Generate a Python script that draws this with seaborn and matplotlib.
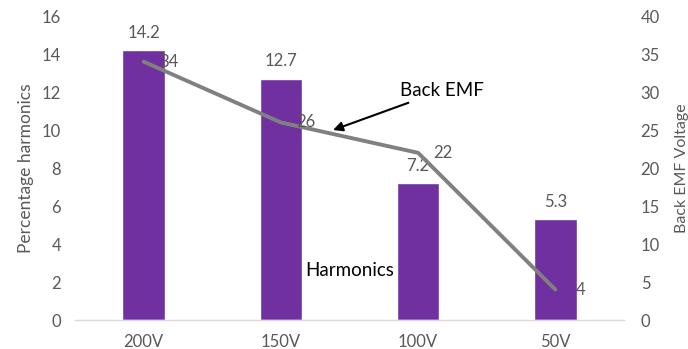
import matplotlib
matplotlib.use("Agg")
import matplotlib.pyplot as plt
import seaborn as sns
import numpy as np
import pandas as pd

categories = ["200V", "150V", "100V", "50V"]
harmonics = [14.2, 12.7, 7.2, 5.3]
back_emf = [34, 26, 22, 4]

sns.set_style("white")
plt.rcParams['font.family'] = ['Lato', 'DejaVu Sans']

bar_color = "#7030A0"
line_color = "#808080"
text_color = "#595959"

fig = plt.figure(figsize=(6.88, 3.49), dpi=100)
ax = fig.add_axes([0.109, 0.083, 0.798, 0.871])

df = pd.DataFrame({"cat": categories, "harm": harmonics, "emf": back_emf})
sns.barplot(data=df, x="cat", y="harm", color=bar_color, width=0.31,
            saturation=1, ax=ax)
ax.set_ylim(0, 16)
ax.set_xlim(-0.5, 3.5)
ax.set_yticks(np.arange(0, 17, 2))
ax.set_xlabel("")
ax.set_ylabel("Percentage harmonics", fontsize=12.5, color=text_color,
              labelpad=6)
ax.tick_params(axis="both", length=0, labelsize=12, colors=text_color, pad=10)
for s in ["top", "right", "left"]:
    ax.spines[s].set_visible(False)
ax.spines["bottom"].set_color("#D9D9D9")
ax.spines["bottom"].set_linewidth(1)

for i, v in enumerate(harmonics):
    ax.annotate(f"{v}", (i, v), xytext=(0, 7), textcoords="offset points",
                ha="center", va="bottom", fontsize=12, color=text_color)

ax2 = ax.twinx()
xpos = np.arange(len(categories))
sns.lineplot(x=xpos, y=back_emf, color=line_color, linewidth=2.8, ax=ax2)
ax2.set_ylim(0, 40)
ax2.set_yticks(np.arange(0, 41, 5))
ax2.set_ylabel("Back EMF Voltage", fontsize=11.5, color=text_color,
               labelpad=11)
ax2.tick_params(axis="y", length=0, labelsize=12, colors=text_color, pad=12)
for s in ["top", "right", "left", "bottom"]:
    ax2.spines[s].set_visible(False)

for i, v in enumerate(back_emf):
    ax2.annotate(f"{v}", (i, v), xytext=(18, 0), textcoords="offset points",
                 ha="center", va="center", fontsize=12, color=text_color)

ax2.annotate("Back EMF", xy=(1.38, 25.0), xytext=(1.87, 30.2),
             fontsize=13.5, color="black", ha="left", va="center",
             arrowprops=dict(arrowstyle="-|>", color="black", lw=1.5,
                             mutation_scale=14, shrinkA=1, shrinkB=0))
ax.text(1.5, 2.6, "Harmonics", fontsize=13.5, color="black", ha="center",
        va="center")

fig.savefig("out.png", dpi=100)
